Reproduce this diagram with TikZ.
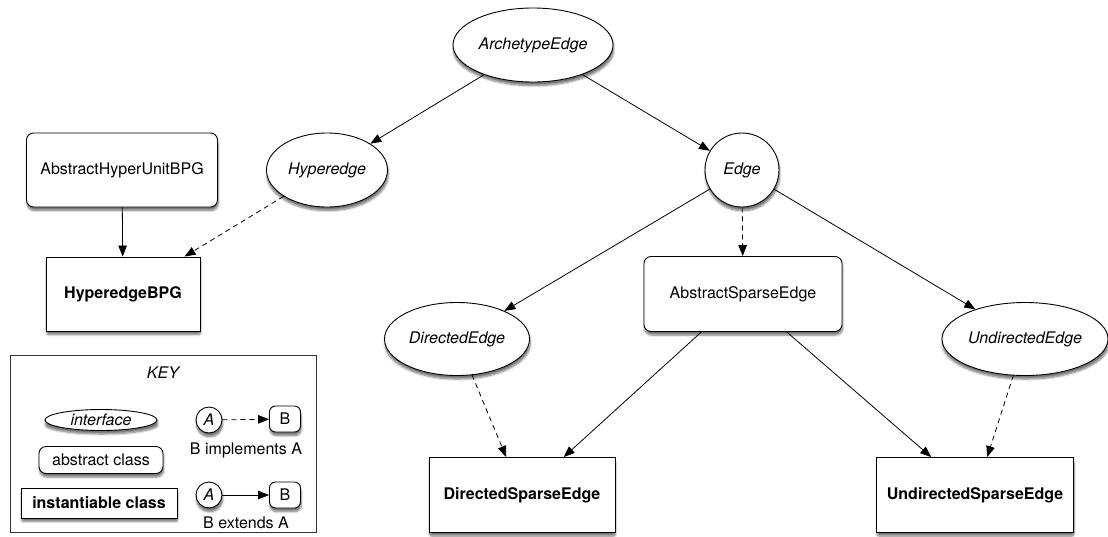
\documentclass[tikz,border=0pt]{standalone}
\usepackage{fontspec}
\setmainfont{TeX Gyre Heros}
\usetikzlibrary{shapes.geometric,arrows.meta,shadows.blur}
\begin{document}
\begin{tikzpicture}[x=1pt,y=-1pt,
  every node/.style={font=\fontsize{16}{19}\selectfont, inner sep=0pt},
  shad/.style={blur shadow={shadow blur steps=6, shadow xshift=0.6pt, shadow yshift=-3.5pt, shadow opacity=55, shadow blur extra rounding=2pt}},
  iface/.style={ellipse, draw, line width=0.9pt, fill=white, shad, font=\fontsize{16}{19}\selectfont\itshape},
  aclass/.style={rectangle, rounded corners=7pt, draw, line width=0.9pt, fill=white, shad},
  iclass/.style={rectangle, draw, line width=0.9pt, fill=white, shad, font=\fontsize{16}{19}\selectfont\bfseries},
  ext/.style={line width=0.8pt, -{Triangle[length=11pt,width=8.5pt]}},
  impl/.style={ext, dash pattern=on 5pt off 4pt},
  keycirc/.style={circle, draw, line width=0.9pt, fill=white, minimum size=26pt, shad, font=\fontsize{16}{19}\selectfont\itshape},
  keyb/.style={rectangle, rounded corners=6pt, draw, line width=0.9pt, fill=white, minimum width=31pt, minimum height=26pt, shad}
]
\useasboundingbox (0,0) rectangle (1108,536);

% main nodes
\node[iface, minimum width=160pt, minimum height=74pt] (arch) at (533,45) {ArchetypeEdge};
\node[iface, minimum width=121pt, minimum height=74pt] (hyper) at (327,170) {Hyperedge};
\node[iface, minimum width=74pt, minimum height=74pt] (edge) at (742,170) {Edge};
\node[aclass, minimum width=191pt, minimum height=74pt] (ahu) at (122,170) {AbstractHyperUnitBPG};
\node[iclass, minimum width=154pt, minimum height=74pt] (hbpg) at (123,294) {HyperedgeBPG};
\node[aclass, minimum width=198pt, minimum height=75pt] (ase) at (743,294) {AbstractSparseEdge};
\node[iface, minimum width=145pt, minimum height=73pt] (dir) at (457,339) {DirectedEdge};
\node[iface, minimum width=166pt, minimum height=73pt] (undir) at (1025,339) {UndirectedEdge};
\node[iclass, minimum width=186pt, minimum height=75pt] (dse) at (522,495) {DirectedSparseEdge};
\node[iclass, minimum width=197pt, minimum height=75pt] (use) at (975,495) {UndirectedSparseEdge};

% connectors
\draw[ext] (arch) -- (hyper);
\draw[ext] (arch) -- (edge);
\draw[impl] (hyper) -- (hbpg);
\draw[ext] (ahu) -- (hbpg);
\draw[ext] (edge) -- (dir);
\draw[impl] (edge) -- (ase);
\draw[ext] (edge) -- (undir);
\draw[impl] (dir) -- (dse);
\draw[ext] (ase) -- (dse);
\draw[ext] (ase) -- (use);
\draw[impl] (undir) -- (use);

% key
\node[rectangle, draw=black!80, line width=0.8pt, minimum width=306pt, minimum height=177pt] (keybox) at (163,444) {};
\node[font=\fontsize{16}{19}\selectfont\itshape] (keytitle) at (163,373) {KEY};
\node[iface, minimum width=112pt, minimum height=21pt] (kiface) at (101,420) {interface};
\node[aclass, minimum width=124pt, minimum height=27pt] (kabs) at (101,460) {abstract class};
\node[iclass, minimum width=156pt, minimum height=30pt] (kinst) at (99,503) {instantiable class};
\node[keycirc] (ka1) at (209,420) {A};
\node[keyb] (kb1) at (285,419) {B};
\node (kt1) at (246,450) {B implements A};
\node[keycirc] (ka2) at (209,495) {A};
\node[keyb] (kb2) at (285,495) {B};
\node (kt2) at (246,523) {B extends A};
\draw[impl] (ka1) -- (kb1);
\draw[ext] (ka2) -- (kb2);
\end{tikzpicture}
\end{document}
